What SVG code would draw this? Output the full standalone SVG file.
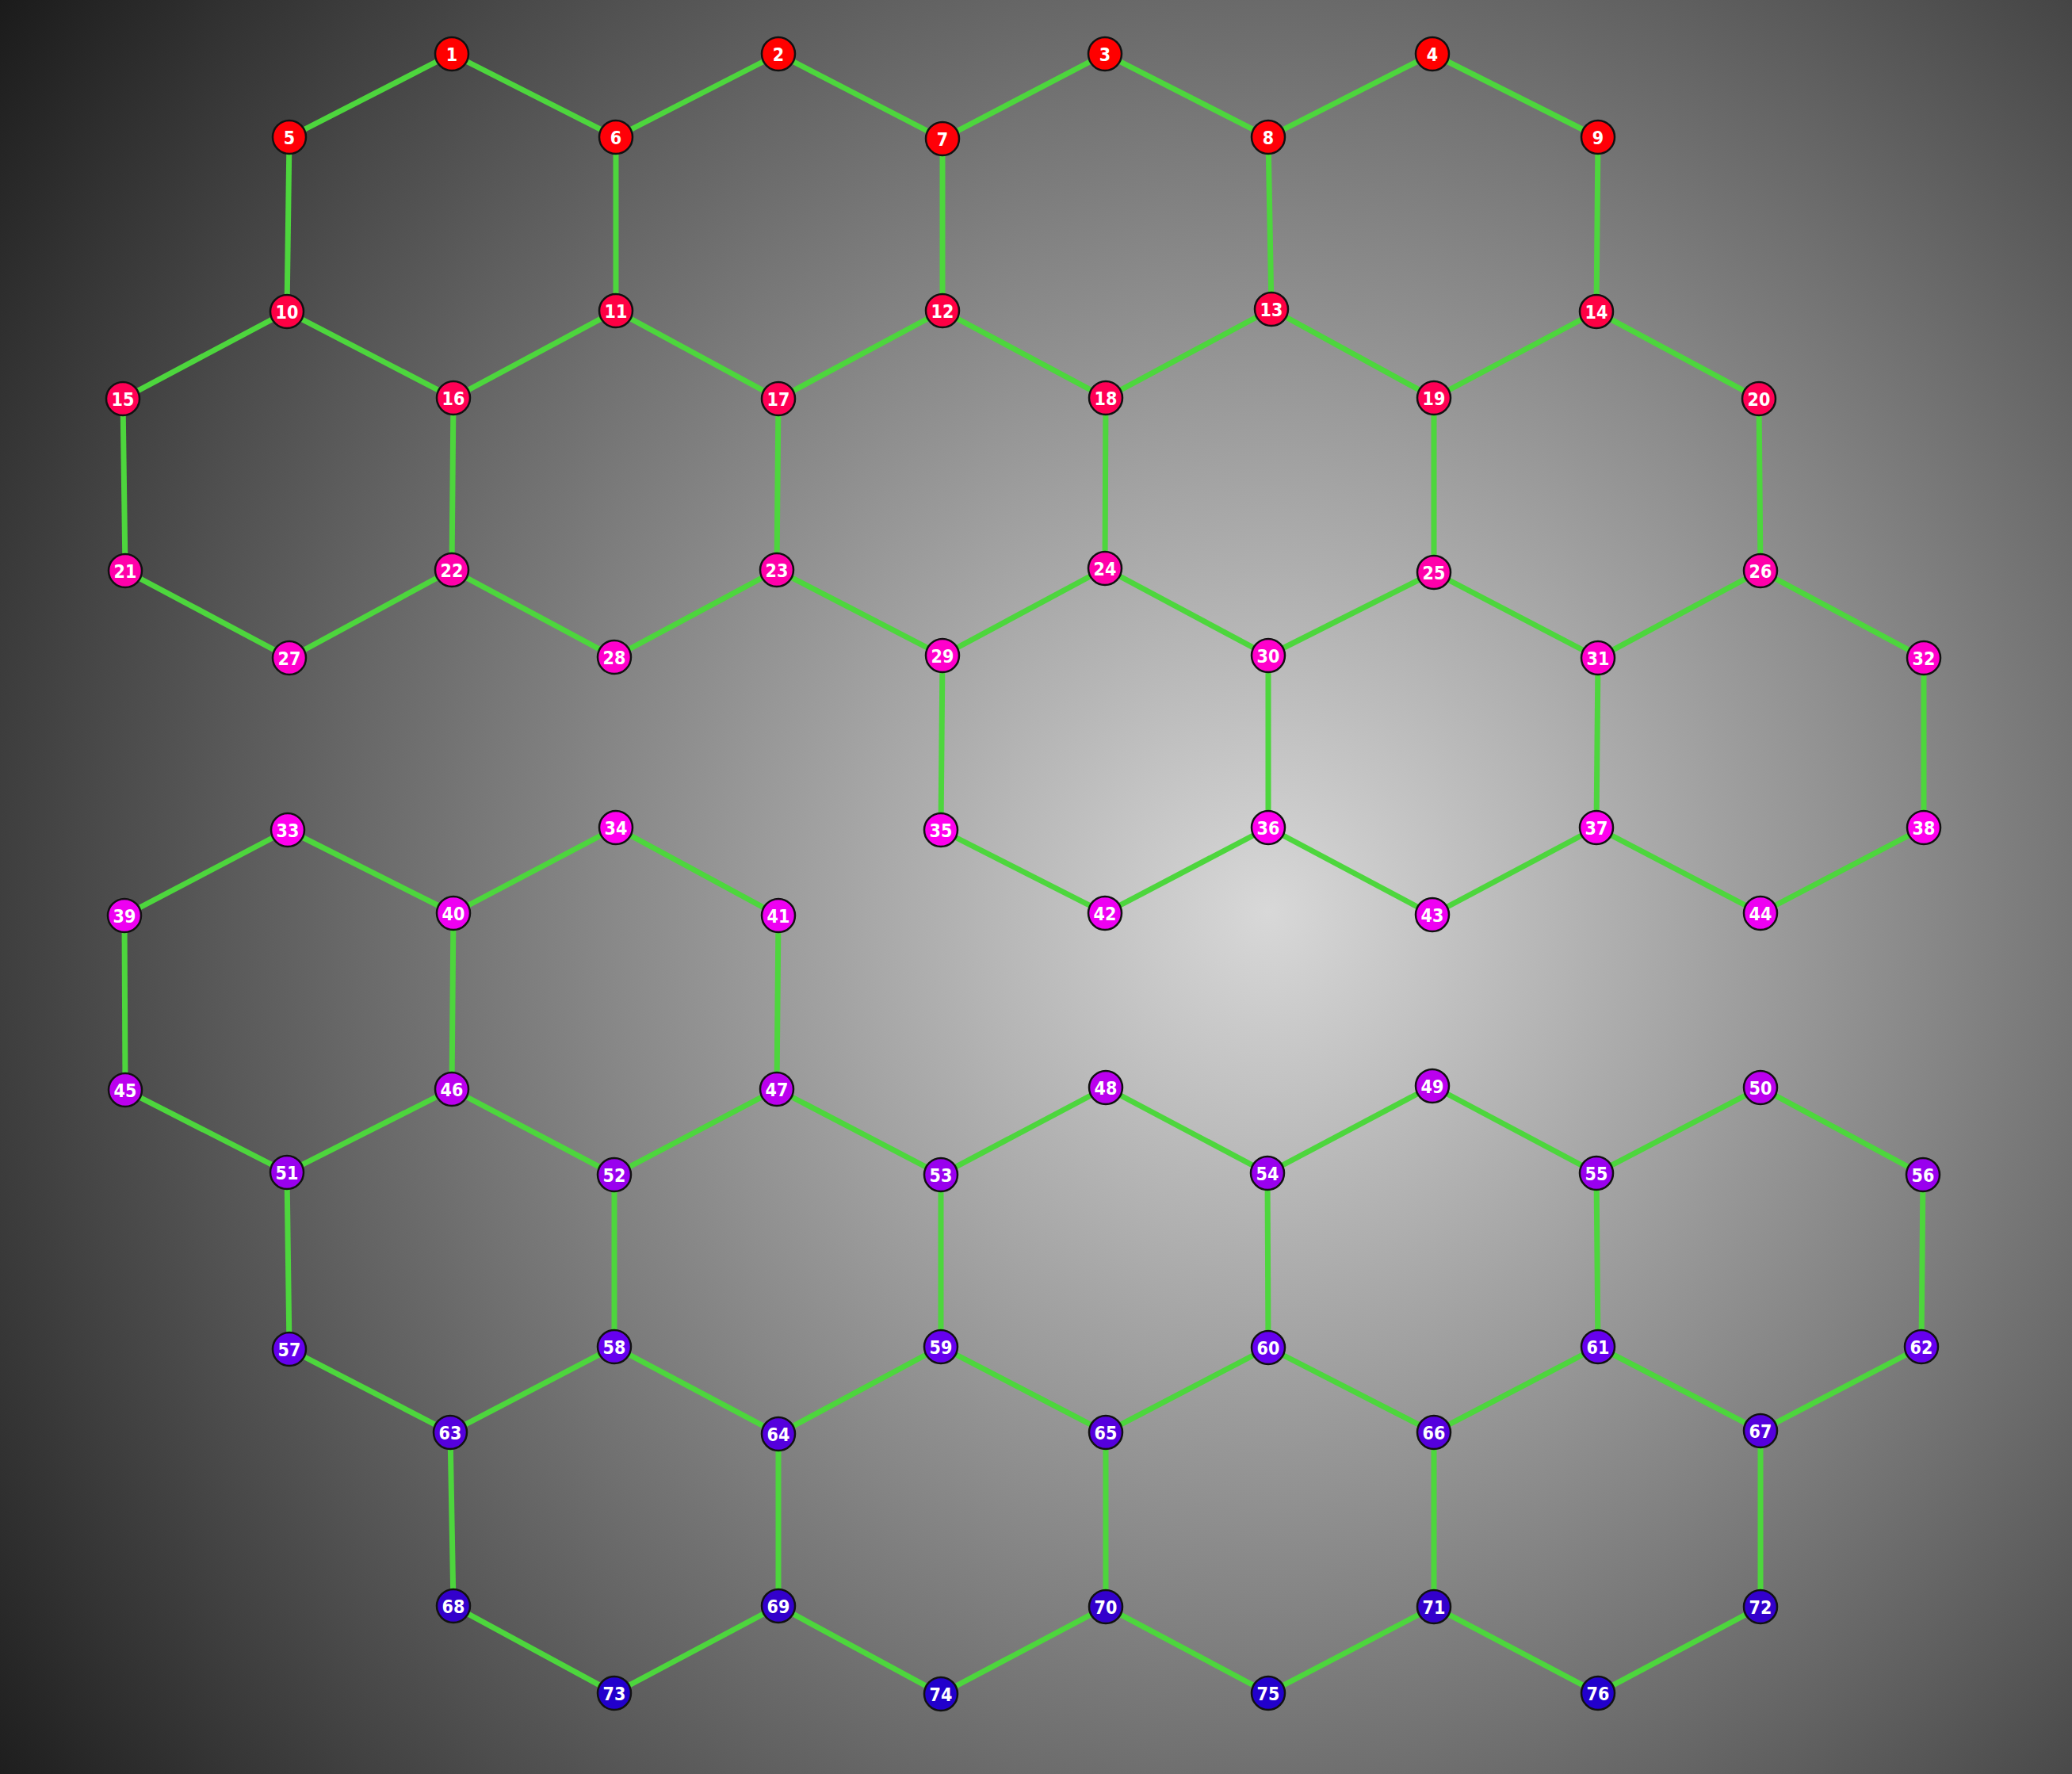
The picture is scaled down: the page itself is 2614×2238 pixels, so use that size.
<svg xmlns="http://www.w3.org/2000/svg" width="2614" height="2238" viewBox="0 0 2614 2238">
<defs>
<radialGradient id="bg" gradientUnits="userSpaceOnUse" cx="1600" cy="1150" r="2000">
<stop offset="0" stop-color="#d8d8d8"/>
<stop offset="1" stop-color="#181818"/>
</radialGradient>
</defs>
<style>
.e line{stroke:#4dd63d;stroke-width:7;stroke-linecap:butt}
.n circle{stroke:#111;stroke-width:2.5}
.n text{fill:#fff;font-family:"DejaVu Sans Condensed","DejaVu Sans",sans-serif;font-stretch:condensed;font-weight:bold;font-size:23px;text-anchor:middle;dominant-baseline:central}
.r0 circle{fill:#ff0000}.r1 circle{fill:#ff0008}.r2 circle{fill:#ff0044}.r3 circle{fill:#ff0055}
.r4 circle{fill:#ff00aa}.r5 circle{fill:#ff00cc}.r6 circle{fill:#ff00ee}.r7 circle{fill:#ee00f2}
.r8 circle{fill:#bb00ee}.r9 circle{fill:#9900ee}.r10 circle{fill:#6600ee}.r11 circle{fill:#5500dd}
.r12 circle{fill:#3300cc}.r13 circle{fill:#2200cc}
</style>
<rect x="0" y="0" width="2614" height="2238" fill="url(#bg)"/>
<g id="edges" class="e">
<line x1="570" y1="68" x2="365" y2="173"/>
<line x1="570" y1="68" x2="777" y2="173"/>
<line x1="365" y1="173" x2="362" y2="393"/>
<line x1="777" y1="173" x2="777" y2="392"/>
<line x1="777" y1="173" x2="982" y2="68"/>
<line x1="982" y1="68" x2="1189" y2="175"/>
<line x1="1189" y1="175" x2="1394" y2="68"/>
<line x1="1394" y1="68" x2="1600" y2="173"/>
<line x1="1600" y1="173" x2="1807" y2="68"/>
<line x1="1807" y1="68" x2="2016" y2="173"/>
<line x1="1189" y1="175" x2="1189" y2="392"/>
<line x1="1600" y1="173" x2="1604" y2="390"/>
<line x1="2016" y1="173" x2="2014" y2="393"/>
<line x1="362" y1="393" x2="155" y2="503"/>
<line x1="362" y1="393" x2="572" y2="502"/>
<line x1="777" y1="392" x2="572" y2="502"/>
<line x1="777" y1="392" x2="982" y2="503"/>
<line x1="1189" y1="392" x2="982" y2="503"/>
<line x1="1189" y1="392" x2="1395" y2="502"/>
<line x1="1604" y1="390" x2="1395" y2="502"/>
<line x1="1604" y1="390" x2="1809" y2="502"/>
<line x1="2014" y1="393" x2="1809" y2="502"/>
<line x1="2014" y1="393" x2="2219" y2="503"/>
<line x1="155" y1="503" x2="158" y2="720"/>
<line x1="572" y1="502" x2="570" y2="719"/>
<line x1="982" y1="503" x2="980" y2="719"/>
<line x1="1395" y1="502" x2="1394" y2="717"/>
<line x1="1809" y1="502" x2="1809" y2="722"/>
<line x1="2219" y1="503" x2="2221" y2="720"/>
<line x1="158" y1="720" x2="365" y2="830"/>
<line x1="365" y1="830" x2="570" y2="719"/>
<line x1="570" y1="719" x2="775" y2="829"/>
<line x1="775" y1="829" x2="980" y2="719"/>
<line x1="980" y1="719" x2="1189" y2="827"/>
<line x1="1189" y1="827" x2="1394" y2="717"/>
<line x1="1394" y1="717" x2="1600" y2="827"/>
<line x1="1600" y1="827" x2="1809" y2="722"/>
<line x1="1809" y1="722" x2="2016" y2="830"/>
<line x1="2016" y1="830" x2="2221" y2="720"/>
<line x1="2221" y1="720" x2="2427" y2="830"/>
<line x1="1189" y1="827" x2="1187" y2="1047"/>
<line x1="1600" y1="827" x2="1600" y2="1044"/>
<line x1="2016" y1="830" x2="2014" y2="1044"/>
<line x1="2427" y1="830" x2="2427" y2="1044"/>
<line x1="1187" y1="1047" x2="1394" y2="1152"/>
<line x1="1394" y1="1152" x2="1600" y2="1044"/>
<line x1="1600" y1="1044" x2="1807" y2="1154"/>
<line x1="1807" y1="1154" x2="2014" y2="1044"/>
<line x1="2014" y1="1044" x2="2221" y2="1152"/>
<line x1="2221" y1="1152" x2="2427" y2="1044"/>
<line x1="363" y1="1047" x2="157" y2="1155"/>
<line x1="363" y1="1047" x2="572" y2="1152"/>
<line x1="572" y1="1152" x2="777" y2="1044"/>
<line x1="777" y1="1044" x2="982" y2="1155"/>
<line x1="157" y1="1155" x2="158" y2="1375"/>
<line x1="572" y1="1152" x2="570" y2="1374"/>
<line x1="982" y1="1155" x2="980" y2="1374"/>
<line x1="158" y1="1375" x2="362" y2="1479"/>
<line x1="362" y1="1479" x2="570" y2="1374"/>
<line x1="570" y1="1374" x2="775" y2="1482"/>
<line x1="775" y1="1482" x2="980" y2="1374"/>
<line x1="980" y1="1374" x2="1187" y2="1482"/>
<line x1="1187" y1="1482" x2="1395" y2="1372"/>
<line x1="1395" y1="1372" x2="1599" y2="1480"/>
<line x1="1599" y1="1480" x2="1807" y2="1370"/>
<line x1="1807" y1="1370" x2="2014" y2="1480"/>
<line x1="2014" y1="1480" x2="2221" y2="1372"/>
<line x1="2221" y1="1372" x2="2426" y2="1482"/>
<line x1="362" y1="1479" x2="365" y2="1702"/>
<line x1="775" y1="1482" x2="775" y2="1699"/>
<line x1="1187" y1="1482" x2="1187" y2="1699"/>
<line x1="1599" y1="1480" x2="1600" y2="1700"/>
<line x1="2014" y1="1480" x2="2016" y2="1699"/>
<line x1="2426" y1="1482" x2="2424" y2="1699"/>
<line x1="365" y1="1702" x2="568" y2="1807"/>
<line x1="568" y1="1807" x2="775" y2="1699"/>
<line x1="775" y1="1699" x2="982" y2="1809"/>
<line x1="982" y1="1809" x2="1187" y2="1699"/>
<line x1="1187" y1="1699" x2="1395" y2="1807"/>
<line x1="1395" y1="1807" x2="1600" y2="1700"/>
<line x1="1600" y1="1700" x2="1809" y2="1807"/>
<line x1="1809" y1="1807" x2="2016" y2="1699"/>
<line x1="2016" y1="1699" x2="2221" y2="1805"/>
<line x1="2221" y1="1805" x2="2424" y2="1699"/>
<line x1="568" y1="1807" x2="572" y2="2026"/>
<line x1="982" y1="1809" x2="982" y2="2026"/>
<line x1="1395" y1="1807" x2="1395" y2="2027"/>
<line x1="1809" y1="1807" x2="1809" y2="2027"/>
<line x1="2221" y1="1805" x2="2221" y2="2027"/>
<line x1="572" y1="2026" x2="775" y2="2136"/>
<line x1="775" y1="2136" x2="982" y2="2026"/>
<line x1="982" y1="2026" x2="1187" y2="2137"/>
<line x1="1187" y1="2137" x2="1395" y2="2027"/>
<line x1="1395" y1="2027" x2="1600" y2="2136"/>
<line x1="1600" y1="2136" x2="1809" y2="2027"/>
<line x1="1809" y1="2027" x2="2016" y2="2136"/>
<line x1="2016" y1="2136" x2="2221" y2="2027"/>
</g>
<g id="nodes">
<g id="n1" class="n r0"><circle cx="570" cy="68" r="21"/><text x="570" y="69">1</text></g>
<g id="n2" class="n r0"><circle cx="982" cy="68" r="21"/><text x="982" y="69">2</text></g>
<g id="n3" class="n r0"><circle cx="1394" cy="68" r="21"/><text x="1394" y="69">3</text></g>
<g id="n4" class="n r0"><circle cx="1807" cy="68" r="21"/><text x="1807" y="69">4</text></g>
<g id="n5" class="n r1"><circle cx="365" cy="173" r="21"/><text x="365" y="174">5</text></g>
<g id="n6" class="n r1"><circle cx="777" cy="173" r="21"/><text x="777" y="174">6</text></g>
<g id="n7" class="n r1"><circle cx="1189" cy="175" r="21"/><text x="1189" y="176">7</text></g>
<g id="n8" class="n r1"><circle cx="1600" cy="173" r="21"/><text x="1600" y="174">8</text></g>
<g id="n9" class="n r1"><circle cx="2016" cy="173" r="21"/><text x="2016" y="174">9</text></g>
<g id="n10" class="n r2"><circle cx="362" cy="393" r="21"/><text x="362" y="394">10</text></g>
<g id="n11" class="n r2"><circle cx="777" cy="392" r="21"/><text x="777" y="393">11</text></g>
<g id="n12" class="n r2"><circle cx="1189" cy="392" r="21"/><text x="1189" y="393">12</text></g>
<g id="n13" class="n r2"><circle cx="1604" cy="390" r="21"/><text x="1604" y="391">13</text></g>
<g id="n14" class="n r2"><circle cx="2014" cy="393" r="21"/><text x="2014" y="394">14</text></g>
<g id="n15" class="n r3"><circle cx="155" cy="503" r="21"/><text x="155" y="504">15</text></g>
<g id="n16" class="n r3"><circle cx="572" cy="502" r="21"/><text x="572" y="503">16</text></g>
<g id="n17" class="n r3"><circle cx="982" cy="503" r="21"/><text x="982" y="504">17</text></g>
<g id="n18" class="n r3"><circle cx="1395" cy="502" r="21"/><text x="1395" y="503">18</text></g>
<g id="n19" class="n r3"><circle cx="1809" cy="502" r="21"/><text x="1809" y="503">19</text></g>
<g id="n20" class="n r3"><circle cx="2219" cy="503" r="21"/><text x="2219" y="504">20</text></g>
<g id="n21" class="n r4"><circle cx="158" cy="720" r="21"/><text x="158" y="721">21</text></g>
<g id="n22" class="n r4"><circle cx="570" cy="719" r="21"/><text x="570" y="720">22</text></g>
<g id="n23" class="n r4"><circle cx="980" cy="719" r="21"/><text x="980" y="720">23</text></g>
<g id="n24" class="n r4"><circle cx="1394" cy="717" r="21"/><text x="1394" y="718">24</text></g>
<g id="n25" class="n r4"><circle cx="1809" cy="722" r="21"/><text x="1809" y="723">25</text></g>
<g id="n26" class="n r4"><circle cx="2221" cy="720" r="21"/><text x="2221" y="721">26</text></g>
<g id="n27" class="n r5"><circle cx="365" cy="830" r="21"/><text x="365" y="831">27</text></g>
<g id="n28" class="n r5"><circle cx="775" cy="829" r="21"/><text x="775" y="830">28</text></g>
<g id="n29" class="n r5"><circle cx="1189" cy="827" r="21"/><text x="1189" y="828">29</text></g>
<g id="n30" class="n r5"><circle cx="1600" cy="827" r="21"/><text x="1600" y="828">30</text></g>
<g id="n31" class="n r5"><circle cx="2016" cy="830" r="21"/><text x="2016" y="831">31</text></g>
<g id="n32" class="n r5"><circle cx="2427" cy="830" r="21"/><text x="2427" y="831">32</text></g>
<g id="n33" class="n r6"><circle cx="363" cy="1047" r="21"/><text x="363" y="1048">33</text></g>
<g id="n34" class="n r6"><circle cx="777" cy="1044" r="21"/><text x="777" y="1045">34</text></g>
<g id="n35" class="n r6"><circle cx="1187" cy="1047" r="21"/><text x="1187" y="1048">35</text></g>
<g id="n36" class="n r6"><circle cx="1600" cy="1044" r="21"/><text x="1600" y="1045">36</text></g>
<g id="n37" class="n r6"><circle cx="2014" cy="1044" r="21"/><text x="2014" y="1045">37</text></g>
<g id="n38" class="n r6"><circle cx="2427" cy="1044" r="21"/><text x="2427" y="1045">38</text></g>
<g id="n39" class="n r7"><circle cx="157" cy="1155" r="21"/><text x="157" y="1156">39</text></g>
<g id="n40" class="n r7"><circle cx="572" cy="1152" r="21"/><text x="572" y="1153">40</text></g>
<g id="n41" class="n r7"><circle cx="982" cy="1155" r="21"/><text x="982" y="1156">41</text></g>
<g id="n42" class="n r7"><circle cx="1394" cy="1152" r="21"/><text x="1394" y="1153">42</text></g>
<g id="n43" class="n r7"><circle cx="1807" cy="1154" r="21"/><text x="1807" y="1155">43</text></g>
<g id="n44" class="n r7"><circle cx="2221" cy="1152" r="21"/><text x="2221" y="1153">44</text></g>
<g id="n45" class="n r8"><circle cx="158" cy="1375" r="21"/><text x="158" y="1376">45</text></g>
<g id="n46" class="n r8"><circle cx="570" cy="1374" r="21"/><text x="570" y="1375">46</text></g>
<g id="n47" class="n r8"><circle cx="980" cy="1374" r="21"/><text x="980" y="1375">47</text></g>
<g id="n48" class="n r8"><circle cx="1395" cy="1372" r="21"/><text x="1395" y="1373">48</text></g>
<g id="n49" class="n r8"><circle cx="1807" cy="1370" r="21"/><text x="1807" y="1371">49</text></g>
<g id="n50" class="n r8"><circle cx="2221" cy="1372" r="21"/><text x="2221" y="1373">50</text></g>
<g id="n51" class="n r9"><circle cx="362" cy="1479" r="21"/><text x="362" y="1480">51</text></g>
<g id="n52" class="n r9"><circle cx="775" cy="1482" r="21"/><text x="775" y="1483">52</text></g>
<g id="n53" class="n r9"><circle cx="1187" cy="1482" r="21"/><text x="1187" y="1483">53</text></g>
<g id="n54" class="n r9"><circle cx="1599" cy="1480" r="21"/><text x="1599" y="1481">54</text></g>
<g id="n55" class="n r9"><circle cx="2014" cy="1480" r="21"/><text x="2014" y="1481">55</text></g>
<g id="n56" class="n r9"><circle cx="2426" cy="1482" r="21"/><text x="2426" y="1483">56</text></g>
<g id="n57" class="n r10"><circle cx="365" cy="1702" r="21"/><text x="365" y="1703">57</text></g>
<g id="n58" class="n r10"><circle cx="775" cy="1699" r="21"/><text x="775" y="1700">58</text></g>
<g id="n59" class="n r10"><circle cx="1187" cy="1699" r="21"/><text x="1187" y="1700">59</text></g>
<g id="n60" class="n r10"><circle cx="1600" cy="1700" r="21"/><text x="1600" y="1701">60</text></g>
<g id="n61" class="n r10"><circle cx="2016" cy="1699" r="21"/><text x="2016" y="1700">61</text></g>
<g id="n62" class="n r10"><circle cx="2424" cy="1699" r="21"/><text x="2424" y="1700">62</text></g>
<g id="n63" class="n r11"><circle cx="568" cy="1807" r="21"/><text x="568" y="1808">63</text></g>
<g id="n64" class="n r11"><circle cx="982" cy="1809" r="21"/><text x="982" y="1810">64</text></g>
<g id="n65" class="n r11"><circle cx="1395" cy="1807" r="21"/><text x="1395" y="1808">65</text></g>
<g id="n66" class="n r11"><circle cx="1809" cy="1807" r="21"/><text x="1809" y="1808">66</text></g>
<g id="n67" class="n r11"><circle cx="2221" cy="1805" r="21"/><text x="2221" y="1806">67</text></g>
<g id="n68" class="n r12"><circle cx="572" cy="2026" r="21"/><text x="572" y="2027">68</text></g>
<g id="n69" class="n r12"><circle cx="982" cy="2026" r="21"/><text x="982" y="2027">69</text></g>
<g id="n70" class="n r12"><circle cx="1395" cy="2027" r="21"/><text x="1395" y="2028">70</text></g>
<g id="n71" class="n r12"><circle cx="1809" cy="2027" r="21"/><text x="1809" y="2028">71</text></g>
<g id="n72" class="n r12"><circle cx="2221" cy="2027" r="21"/><text x="2221" y="2028">72</text></g>
<g id="n73" class="n r13"><circle cx="775" cy="2136" r="21"/><text x="775" y="2137">73</text></g>
<g id="n74" class="n r13"><circle cx="1187" cy="2137" r="21"/><text x="1187" y="2138">74</text></g>
<g id="n75" class="n r13"><circle cx="1600" cy="2136" r="21"/><text x="1600" y="2137">75</text></g>
<g id="n76" class="n r13"><circle cx="2016" cy="2136" r="21"/><text x="2016" y="2137">76</text></g>
</g>
</svg>
